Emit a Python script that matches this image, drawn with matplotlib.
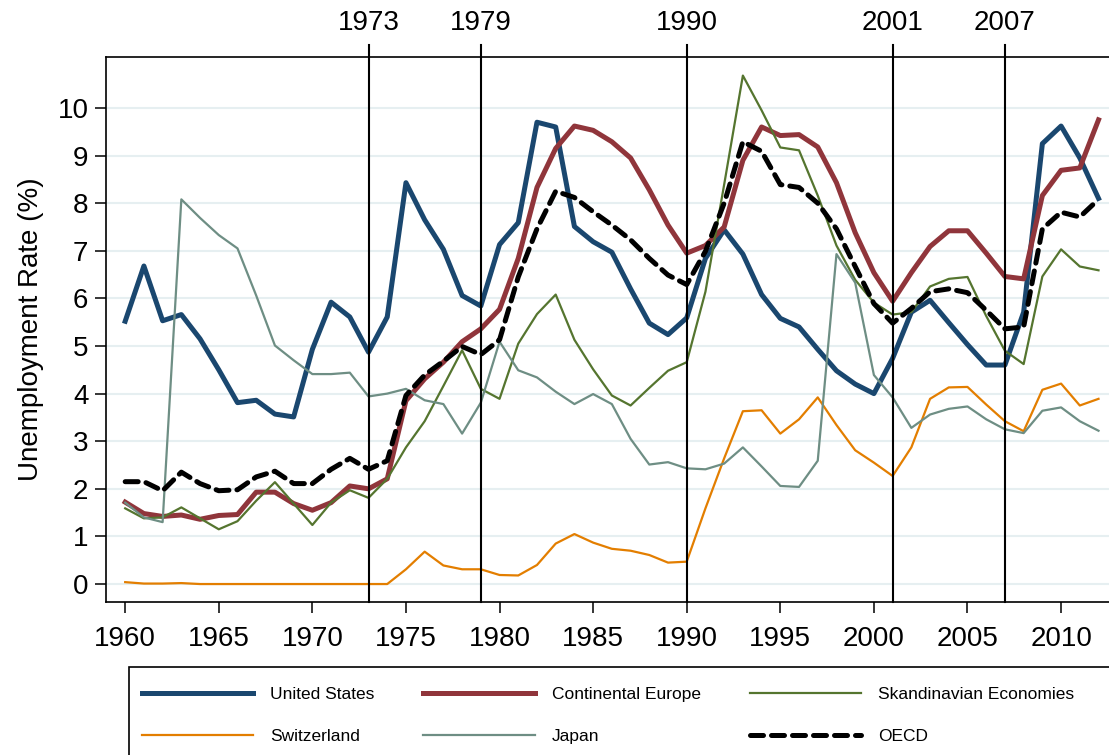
import matplotlib
matplotlib.use("Agg")
import matplotlib.pyplot as plt
from matplotlib.patches import Rectangle

plt.rcParams['font.family'] = ['Liberation Sans', 'DejaVu Sans']

years = list(range(1960, 2013))

us = [5.52, 6.68, 5.53, 5.66, 5.15, 4.50, 3.81, 3.86, 3.57, 3.51,
      4.93, 5.92, 5.61, 4.87, 5.61, 8.43, 7.65, 7.03, 6.06, 5.84,
      7.13, 7.59, 9.70, 9.60, 7.51, 7.19, 6.97, 6.20, 5.48, 5.24,
      5.59, 6.84, 7.44, 6.93, 6.08, 5.58, 5.40, 4.93, 4.48, 4.20,
      4.00, 4.74, 5.71, 5.96, 5.49, 5.03, 4.60, 4.60, 5.71, 9.25,
      9.62, 8.95, 8.10]

europe = [1.72, 1.48, 1.42, 1.45, 1.36, 1.44, 1.46, 1.93, 1.93, 1.69,
          1.55, 1.71, 2.06, 2.00, 2.21, 3.85, 4.31, 4.66, 5.09, 5.36,
          5.77, 6.84, 8.33, 9.15, 9.62, 9.53, 9.29, 8.95, 8.28, 7.54,
          6.95, 7.11, 7.50, 8.90, 9.60, 9.42, 9.44, 9.18, 8.43, 7.38,
          6.54, 5.94, 6.54, 7.09, 7.42, 7.42, 6.95, 6.46, 6.41, 8.16,
          8.69, 8.74, 9.75]

skandinavia = [1.59, 1.38, 1.40, 1.61, 1.38, 1.15, 1.32, 1.75, 2.14, 1.69,
               1.24, 1.71, 1.97, 1.81, 2.21, 2.87, 3.42, 4.16, 4.91, 4.10,
               3.89, 5.05, 5.67, 6.08, 5.13, 4.51, 3.96, 3.75, 4.12, 4.48,
               4.66, 6.14, 8.39, 10.68, 9.95, 9.17, 9.11, 8.16, 7.11, 6.39,
               5.91, 5.66, 5.71, 6.25, 6.41, 6.45, 5.63, 4.90, 4.62, 6.46,
               7.03, 6.67, 6.59]

switzerland = [0.04, 0.01, 0.01, 0.02, 0.0, 0.0, 0.0, 0.0, 0.0, 0.0,
               0.0, 0.0, 0.0, 0.0, 0.0, 0.31, 0.68, 0.39, 0.31, 0.31,
               0.19, 0.18, 0.40, 0.85, 1.05, 0.87, 0.74, 0.70, 0.61, 0.45,
               0.47, 1.59, 2.64, 3.63, 3.65, 3.16, 3.46, 3.92, 3.34, 2.81,
               2.55, 2.27, 2.87, 3.89, 4.13, 4.14, 3.77, 3.42, 3.21, 4.08,
               4.21, 3.75, 3.89]

japan = [1.71, 1.40, 1.30, 8.08, 7.69, 7.33, 7.05, 6.06, 5.01, 4.70,
         4.41, 4.41, 4.44, 3.94, 4.00, 4.10, 3.86, 3.78, 3.16, 3.81,
         5.09, 4.49, 4.34, 4.04, 3.78, 3.99, 3.78, 3.05, 2.51, 2.56,
         2.43, 2.41, 2.53, 2.87, 2.47, 2.06, 2.04, 2.59, 6.93, 6.33,
         4.39, 3.92, 3.28, 3.56, 3.68, 3.73, 3.46, 3.25, 3.17, 3.64,
         3.71, 3.42, 3.22]

oecd = [2.15, 2.15, 1.96, 2.35, 2.11, 1.96, 1.98, 2.25, 2.37, 2.11,
        2.11, 2.41, 2.64, 2.41, 2.59, 3.96, 4.39, 4.68, 4.99, 4.82,
        5.13, 6.45, 7.46, 8.25, 8.12, 7.82, 7.54, 7.23, 6.84, 6.49,
        6.29, 6.99, 8.00, 9.29, 9.09, 8.39, 8.33, 8.00, 7.46, 6.67,
        5.89, 5.48, 5.79, 6.14, 6.20, 6.12, 5.75, 5.36, 5.40, 7.46,
        7.81, 7.71, 8.08]

event_years = [1973, 1979, 1990, 2001, 2007]

fig = plt.figure(figsize=(11.09, 7.55), dpi=100)
ax = fig.add_axes([0.096, 0.2026, 0.904, 0.7219])

l_us, = ax.plot(years, us, color='#1a476f', lw=3.6, label='United States')
l_eu, = ax.plot(years, europe, color='#90353b', lw=3.6, label='Continental Europe')
l_sk, = ax.plot(years, skandinavia, color='#55752f', lw=1.6, label='Skandinavian Economies')
l_ch, = ax.plot(years, switzerland, color='#e37e00', lw=1.6, label='Switzerland')
l_jp, = ax.plot(years, japan, color='#6e8e84', lw=1.6, label='Japan')
l_oe, = ax.plot(years, oecd, color='black', lw=3.6, dashes=(2.6, 1.6),
                dash_capstyle='round', label='OECD')

for yr in event_years:
    ax.axvline(yr, ymin=0, ymax=1.022, color='black', lw=1.5, clip_on=False)
    ax.text(yr, 1.062, str(yr), transform=ax.get_xaxis_transform(),
            ha='center', va='center', fontsize=20)

ax.set_xlim(1959.0, 2012.56)
ax.set_ylim(-0.378, 11.07)
ax.set_xticks(range(1960, 2011, 5))
ax.set_yticks(range(0, 11))
ax.yaxis.grid(True, color='#e6eff1', lw=1.5)
ax.set_axisbelow(True)

ax.spines['right'].set_visible(False)
for s in ['left', 'bottom', 'top']:
    ax.spines[s].set_linewidth(1.2)
ax.tick_params(axis='both', direction='out', length=8, width=1.1,
               labelsize=20)
ax.tick_params(axis='x', pad=9)
ax.tick_params(axis='y', pad=5)
ax.set_ylabel('Unemployment Rate (%)', fontsize=20, labelpad=10)

# legend box (extends past the right edge like the original)
fig.patches.append(Rectangle((129 / 1109, -0.01), 1.0, 1 - 667 / 755 + 0.01,
                             transform=fig.transFigure, fill=False,
                             edgecolor='black', lw=1.2))
# row-major order: columns are filled top to bottom
handles = [l_us, l_ch, l_eu, l_jp, l_sk, l_oe]
fig.legend(handles, [h.get_label() for h in handles], loc='upper left',
           bbox_to_anchor=(142 / 1109, 1 - 687 / 755), ncol=3,
           frameon=False, fontsize=12.5, borderpad=0, borderaxespad=0,
           handlelength=6.4, handletextpad=1.0, columnspacing=2.8,
           labelspacing=1.55)

fig.savefig('out.png', dpi=100)
